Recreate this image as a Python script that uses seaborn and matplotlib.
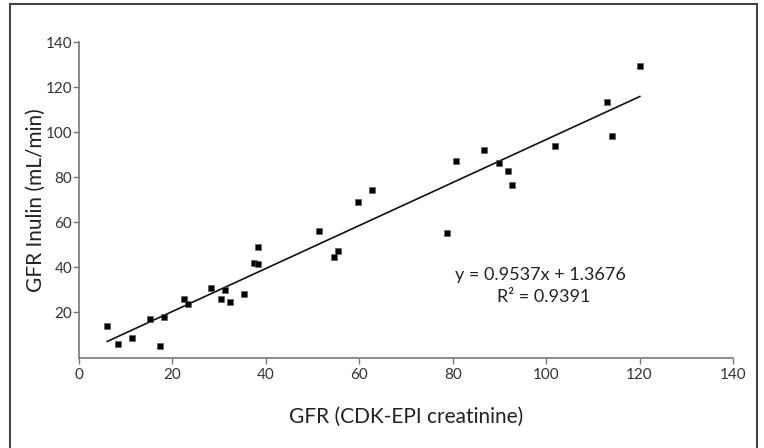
import matplotlib
matplotlib.use('Agg')
import matplotlib.pyplot as plt
import matplotlib.patches as mpatches
import numpy as np
import pandas as pd
import seaborn as sns

# values
gfr_ckd_epi = [6.0, 8.4, 11.3, 15.3, 17.4, 18.3, 22.4, 23.4, 28.3, 30.3, 31.3, 32.3,
               35.3, 37.4, 38.4, 38.4, 51.4, 54.5, 55.5, 59.7, 62.7, 78.8, 80.7,
               86.7, 89.9, 91.9, 92.8, 101.9, 113.1, 114.1, 120.1]
gfr_inulin = [14.0, 5.8, 8.8, 17.2, 5.0, 17.8, 26.0, 23.6, 31.0, 26.0, 30.0, 24.6,
              28.2, 42.0, 41.3, 49.0, 56.1, 44.6, 47.4, 69.1, 74.2, 55.4, 87.3,
              92.2, 86.5, 82.9, 76.6, 94.0, 113.5, 98.4, 129.3]

slope = 0.9537
intercept = 1.3676
r_squared = 0.9391

x_ticks = [0, 20, 40, 60, 80, 100, 120, 140]
y_ticks = [20, 40, 60, 80, 100, 120, 140]

df = pd.DataFrame({'ckd': gfr_ckd_epi, 'inulin': gfr_inulin})
x_fit = np.array([min(gfr_ckd_epi), max(gfr_ckd_epi)])
fit = pd.DataFrame({'ckd': x_fit, 'inulin': slope * x_fit + intercept})

sns.set_style('ticks')
plt.rcParams['font.family'] = ['Lato', 'DejaVu Sans']

fig = plt.figure(figsize=(7.64, 4.48), dpi=100)
ax = fig.add_axes([0.1034, 0.202, 0.856, 0.704])

sns.scatterplot(data=df, x='ckd', y='inulin', marker='s', s=22, color='black',
                edgecolor='#555555', linewidth=0.4, ax=ax, zorder=3)
sns.lineplot(data=fit, x='ckd', y='inulin', color='#111111', linewidth=1.2, ax=ax)

ax.set_xlim(0, 140)
ax.set_ylim(0, 140)
ax.set_xticks(x_ticks)
ax.set_yticks(y_ticks)
sns.despine(ax=ax)
for side in ['left', 'bottom']:
    ax.spines[side].set_color('#777777')
    ax.spines[side].set_linewidth(1.2)
ax.tick_params(axis='both', colors='#777777', labelcolor='#333333',
               labelsize=11, length=4, width=1)
ax.tick_params(axis='y', pad=1)

ax.set_xlabel('GFR (CDK-EPI creatinine)', fontsize=15, color='#222222', labelpad=18)
ax.set_ylabel('GFR Inulin (mL/min)', fontsize=15, color='#222222', labelpad=0)

ax.text(98.8, 36.5, f'y = {slope}x + {intercept}', ha='center', va='center',
        fontsize=13, color='#222222')
ax.text(99.4, 27.0, f'R² = {r_squared}', ha='center', va='center',
        fontsize=13, color='#222222')

# outer frame around the figure
frame = mpatches.Rectangle((10 / 764, -0.02), 747 / 764, 1 - 4 / 448 + 0.02,
                           transform=fig.transFigure, fill=False,
                           edgecolor='#444444', linewidth=1.5)
fig.patches.append(frame)

fig.savefig('out.png', dpi=100)
